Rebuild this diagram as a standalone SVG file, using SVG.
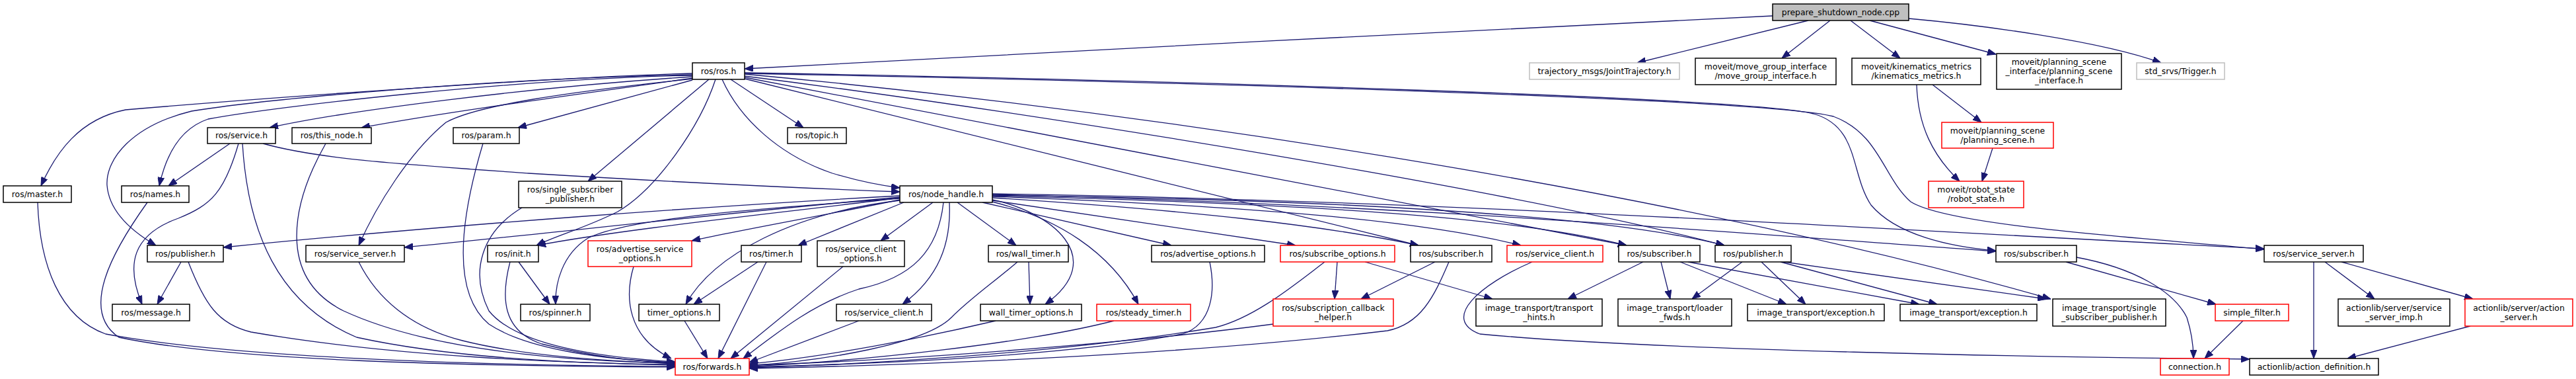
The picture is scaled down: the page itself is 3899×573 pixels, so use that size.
<svg xmlns="http://www.w3.org/2000/svg" width="3899" height="573" viewBox="0 0 3899 573">
<defs>
<style>
.n rect{fill:#fff;stroke:#000;stroke-width:1.5}
.n.r rect{stroke:#ff0000}
.n.g rect{stroke:#bfbfbf}
.n.root rect{fill:#bfbfbf}
.n text{font-family:"DejaVu Sans","Liberation Sans",sans-serif;font-size:12.4px;fill:#000;text-anchor:middle}
#edges path{fill:none;stroke:#191970;stroke-width:1.3;marker-end:url(#ah)}
</style>
<marker id="ah" viewBox="0 0 13 10" refX="13" refY="5" markerWidth="13" markerHeight="10" orient="auto" markerUnits="userSpaceOnUse"><path d="M0,0L13,5L0,10z" fill="#191970" stroke="#191970" stroke-width="1"/></marker>
</defs>
<rect width="3899" height="573" fill="#fff"/>
<g id="edges">
<path d="M2683,24 C2300,40 1500,85 1127,104"/>
<path d="M2737,31 L2478,95"/>
<path d="M2770,31 L2697,88"/>
<path d="M2801,31 L2876,88"/>
<path d="M2830,31 L3021,82"/>
<path d="M2889,28 C3000,38 3180,62 3271,95"/>
<path d="M2925,128 L2999,185"/>
<path d="M2901,128 C2903,190 2925,235 2966,274"/>
<path d="M3016,224 L3000,274"/>
<path d="M1048,111 C850,116 400,148 190,166 C120,180 85,230 62,281"/>
<path d="M1048,113 C750,118 400,150 290,168 C200,190 160,240 162,280 C165,320 200,350 236,371"/>
<path d="M1048,114 C800,118 420,160 315,180 C270,195 250,240 241,281"/>
<path d="M1048,116 C800,132 520,168 408,193"/>
<path d="M1049,118 C820,150 660,172 547,193"/>
<path d="M1049,119 C850,140 720,160 675,185 C620,230 570,310 543,371"/>
<path d="M1048,121 L784,193"/>
<path d="M1073,120 L890,274"/>
<path d="M1083,120 C1060,190 995,285 935,320 C885,345 845,355 812,371"/>
<path d="M1106,120 L1216,193"/>
<path d="M1093,120 C1120,180 1180,235 1260,262 C1300,274 1330,280 1362,284"/>
<path d="M1127,119 L2147,371"/>
<path d="M1127,117 L2462,371"/>
<path d="M1127,115 C1600,175 2300,290 2610,371"/>
<path d="M1127,112 C1700,165 2500,280 3104,452"/>
<path d="M1127,110 C1800,122 2650,148 2745,172 C2815,192 2800,262 2832,310 C2870,355 2950,373 3021,379"/>
<path d="M1127,111 C1800,124 2680,150 2775,176 C2845,202 2850,268 2892,305 C2950,342 3250,360 3427,377"/>
<path d="M348,217 L255,281"/>
<path d="M361,217 C340,290 320,310 270,330 C200,355 190,400 215,460"/>
<path d="M367,217 C375,350 420,460 540,510 C700,545 900,550 1022,551"/>
<path d="M398,217 C480,240 600,248 800,262 C1000,274 1200,284 1362,290"/>
<path d="M493,217 C440,310 420,420 520,470 C650,530 850,546 1022,549"/>
<path d="M731,217 C700,320 680,440 740,490 C800,530 920,544 1022,548"/>
<path d="M57,306 C60,400 90,480 160,505 C350,540 700,552 1022,554"/>
<path d="M223,306 C170,380 120,470 180,510 C350,546 700,553 1022,555"/>
<path d="M274,396 L238,460"/>
<path d="M285,396 C310,460 330,490 380,502 C600,540 850,548 1022,552"/>
<path d="M543,396 C570,450 620,495 700,515 C800,540 930,546 1022,550"/>
<path d="M790,314 C730,350 710,410 740,470 C780,520 900,540 1022,547"/>
<path d="M785,396 L832,460"/>
<path d="M772,396 C758,450 760,500 820,520 C900,540 960,546 1022,549"/>
<path d="M959,403 C945,450 950,510 1016,542"/>
<path d="M1147,396 L1050,460"/>
<path d="M1160,396 L1087,542"/>
<path d="M1036,485 L1071,542"/>
<path d="M1276,403 L1106,542"/>
<path d="M1362,296 C1100,310 700,338 338,374"/>
<path d="M1362,298 C1100,322 800,356 612,374"/>
<path d="M1362,299 C1200,320 950,345 813,371"/>
<path d="M1362,300 C1150,315 950,330 890,360 C850,385 840,430 841,460"/>
<path d="M1362,302 C1250,325 1120,348 1047,364"/>
<path d="M1368,306 L1208,371"/>
<path d="M1362,303 C1200,322 1080,385 1038,460"/>
<path d="M1412,306 L1333,364"/>
<path d="M1428,306 C1420,380 1380,420 1300,437 C1230,460 1180,500 1125,542"/>
<path d="M1437,306 C1440,370 1420,420 1366,460"/>
<path d="M1449,306 L1538,371"/>
<path d="M1502,302 C1590,320 1680,390 1582,460"/>
<path d="M1502,305 C1600,330 1680,380 1723,460"/>
<path d="M1487,306 L1773,371"/>
<path d="M1502,303 L1961,371"/>
<path d="M1502,299 C1800,318 2000,340 2147,371"/>
<path d="M1502,297 C1900,312 2150,333 2302,371"/>
<path d="M1502,296 C2000,308 2300,330 2462,371"/>
<path d="M1502,295 C2100,303 2450,330 2610,371"/>
<path d="M1502,294 C2100,308 2600,350 3021,380"/>
<path d="M1502,293 C2200,303 2900,350 3427,376"/>
<path d="M1300,485 L1134,548"/>
<path d="M1557,396 L1559,460"/>
<path d="M1540,396 C1500,430 1470,450 1440,480 C1400,520 1250,545 1134,553"/>
<path d="M1507,485 C1400,510 1250,540 1134,550"/>
<path d="M1686,485 C1550,520 1300,546 1134,554"/>
<path d="M1831,396 C1840,440 1835,490 1790,505 C1600,540 1300,551 1134,555"/>
<path d="M2024,396 L2020,452"/>
<path d="M2005,396 C1960,430 1900,480 1840,495 C1600,535 1300,551 1134,556"/>
<path d="M2066,396 L2259,452"/>
<path d="M2172,396 L2060,452"/>
<path d="M2193,396 C2170,450 2150,490 2100,500 C1800,536 1400,552 1134,557"/>
<path d="M1927,490 C1700,520 1350,546 1134,552"/>
<path d="M2319,396 C2240,430 2180,482 2240,505 C2500,530 3100,540 3405,543"/>
<path d="M2487,396 L2373,452"/>
<path d="M2514,396 L2528,452"/>
<path d="M2543,396 L2704,460"/>
<path d="M2555,396 L2905,460"/>
<path d="M2637,396 L2561,452"/>
<path d="M2666,396 L2733,460"/>
<path d="M2695,396 L2932,460"/>
<path d="M2700,396 L3097,452"/>
<path d="M3127,396 L3354,460"/>
<path d="M3143,389 C3230,405 3290,440 3310,480 C3318,505 3320,525 3320,542"/>
<path d="M3395,485 L3337,542"/>
<path d="M3502,396 L3502,542"/>
<path d="M3519,396 L3594,452"/>
<path d="M3544,396 L3743,452"/>
<path d="M3739,493 L3553,542"/>
</g>
<g id="n0" class="n root"><rect x="2683" y="6" width="206" height="25"/><text x="2786" y="22.5">prepare_shutdown_node.cpp</text></g>
<g id="n1" class="n"><rect x="1048" y="95" width="79" height="25"/><text x="1087.5" y="111.5">ros/ros.h</text></g>
<g id="n2" class="n g"><rect x="2315" y="95" width="227" height="25"/><text x="2428.5" y="111.5">trajectory_msgs/JointTrajectory.h</text></g>
<g id="n3" class="n"><rect x="2566" y="88" width="213" height="40"/><text x="2672.5" y="105">moveit/move_group_interface</text><text x="2672.5" y="119">/move_group_interface.h</text></g>
<g id="n4" class="n"><rect x="2803" y="88" width="195" height="40"/><text x="2900.5" y="105">moveit/kinematics_metrics</text><text x="2900.5" y="119">/kinematics_metrics.h</text></g>
<g id="n5" class="n"><rect x="3022" y="81" width="189" height="54"/><text x="3116.5" y="97.7">moveit/planning_scene</text><text x="3116.5" y="112">_interface/planning_scene</text><text x="3116.5" y="126.3">_interface.h</text></g>
<g id="n6" class="n g"><rect x="3234" y="95" width="133" height="25"/><text x="3300.5" y="111.5">std_srvs/Trigger.h</text></g>
<g id="n7" class="n"><rect x="314" y="193" width="103" height="24"/><text x="365.5" y="209">ros/service.h</text></g>
<g id="n8" class="n"><rect x="442" y="193" width="120" height="24"/><text x="502" y="209">ros/this_node.h</text></g>
<g id="n9" class="n"><rect x="686" y="193" width="100" height="24"/><text x="736" y="209">ros/param.h</text></g>
<g id="n10" class="n"><rect x="1192" y="193" width="89" height="24"/><text x="1236.5" y="209">ros/topic.h</text></g>
<g id="n11" class="n r"><rect x="2939" y="185" width="169" height="39"/><text x="3023.5" y="201.5">moveit/planning_scene</text><text x="3023.5" y="215.5">/planning_scene.h</text></g>
<g id="n12" class="n"><rect x="5" y="281" width="103" height="25"/><text x="56.5" y="297.5">ros/master.h</text></g>
<g id="n13" class="n"><rect x="184" y="281" width="102" height="25"/><text x="235" y="297.5">ros/names.h</text></g>
<g id="n14" class="n"><rect x="785" y="274" width="156" height="40"/><text x="863" y="291">ros/single_subscriber</text><text x="863" y="305">_publisher.h</text></g>
<g id="n15" class="n"><rect x="1362" y="281" width="140" height="25"/><text x="1432" y="297.5">ros/node_handle.h</text></g>
<g id="n16" class="n r"><rect x="2919" y="274" width="144" height="40"/><text x="2991" y="291">moveit/robot_state</text><text x="2991" y="305">/robot_state.h</text></g>
<g id="n17" class="n"><rect x="223" y="371" width="115" height="25"/><text x="280.5" y="387.5">ros/publisher.h</text></g>
<g id="n18" class="n"><rect x="463" y="371" width="149" height="25"/><text x="537.5" y="387.5">ros/service_server.h</text></g>
<g id="n19" class="n"><rect x="738" y="371" width="77" height="25"/><text x="776.5" y="387.5">ros/init.h</text></g>
<g id="n20" class="n r"><rect x="890" y="364" width="157" height="39"/><text x="968.5" y="380.5">ros/advertise_service</text><text x="968.5" y="394.5">_options.h</text></g>
<g id="n21" class="n"><rect x="1122" y="371" width="91" height="25"/><text x="1167.5" y="387.5">ros/timer.h</text></g>
<g id="n22" class="n"><rect x="1237" y="364" width="132" height="39"/><text x="1303" y="380.5">ros/service_client</text><text x="1303" y="394.5">_options.h</text></g>
<g id="n23" class="n"><rect x="1496" y="371" width="121" height="25"/><text x="1556.5" y="387.5">ros/wall_timer.h</text></g>
<g id="n24" class="n"><rect x="1743" y="371" width="171" height="25"/><text x="1828.5" y="387.5">ros/advertise_options.h</text></g>
<g id="n25" class="n r"><rect x="1938" y="371" width="173" height="25"/><text x="2024.5" y="387.5">ros/subscribe_options.h</text></g>
<g id="n26" class="n"><rect x="2135" y="371" width="123" height="25"/><text x="2196.5" y="387.5">ros/subscriber.h</text></g>
<g id="n27" class="n r"><rect x="2281" y="371" width="145" height="25"/><text x="2353.5" y="387.5">ros/service_client.h</text></g>
<g id="n28" class="n"><rect x="2450" y="371" width="123" height="25"/><text x="2511.5" y="387.5">ros/subscriber.h</text></g>
<g id="n29" class="n"><rect x="2596" y="371" width="115" height="25"/><text x="2653.5" y="387.5">ros/publisher.h</text></g>
<g id="n30" class="n"><rect x="3021" y="371" width="122" height="25"/><text x="3082" y="387.5">ros/subscriber.h</text></g>
<g id="n31" class="n"><rect x="3427" y="371" width="150" height="25"/><text x="3502" y="387.5">ros/service_server.h</text></g>
<g id="n32" class="n"><rect x="170" y="460" width="117" height="25"/><text x="228.5" y="476.5">ros/message.h</text></g>
<g id="n33" class="n"><rect x="788" y="460" width="105" height="25"/><text x="840.5" y="476.5">ros/spinner.h</text></g>
<g id="n34" class="n"><rect x="967" y="460" width="122" height="25"/><text x="1028" y="476.5">timer_options.h</text></g>
<g id="n35" class="n"><rect x="1266" y="460" width="144" height="25"/><text x="1338" y="476.5">ros/service_client.h</text></g>
<g id="n36" class="n"><rect x="1484" y="460" width="153" height="25"/><text x="1560.5" y="476.5">wall_timer_options.h</text></g>
<g id="n37" class="n r"><rect x="1660" y="460" width="142" height="25"/><text x="1731" y="476.5">ros/steady_timer.h</text></g>
<g id="n38" class="n r"><rect x="1927" y="452" width="182" height="41"/><text x="2018" y="469.5">ros/subscription_callback</text><text x="2018" y="483.5">_helper.h</text></g>
<g id="n39" class="n"><rect x="2234" y="452" width="191" height="41"/><text x="2329.5" y="469.5">image_transport/transport</text><text x="2329.5" y="483.5">_hints.h</text></g>
<g id="n40" class="n"><rect x="2449" y="452" width="172" height="41"/><text x="2535" y="469.5">image_transport/loader</text><text x="2535" y="483.5">_fwds.h</text></g>
<g id="n41" class="n"><rect x="2645" y="460" width="207" height="25"/><text x="2748.5" y="476.5">image_transport/exception.h</text></g>
<g id="n42" class="n"><rect x="2876" y="460" width="207" height="25"/><text x="2979.5" y="476.5">image_transport/exception.h</text></g>
<g id="n43" class="n"><rect x="3107" y="452" width="171" height="41"/><text x="3192.5" y="469.5">image_transport/single</text><text x="3192.5" y="483.5">_subscriber_publisher.h</text></g>
<g id="n44" class="n r"><rect x="3353" y="460" width="111" height="25"/><text x="3408.5" y="476.5">simple_filter.h</text></g>
<g id="n45" class="n"><rect x="3539" y="452" width="169" height="41"/><text x="3623.5" y="469.5">actionlib/server/service</text><text x="3623.5" y="483.5">_server_imp.h</text></g>
<g id="n46" class="n r"><rect x="3731" y="452" width="163" height="41"/><text x="3812.5" y="469.5">actionlib/server/action</text><text x="3812.5" y="483.5">_server.h</text></g>
<g id="n47" class="n r"><rect x="1022" y="542" width="112" height="25"/><text x="1078" y="558.5">ros/forwards.h</text></g>
<g id="n48" class="n r"><rect x="3270" y="542" width="104" height="25"/><text x="3322" y="558.5">connection.h</text></g>
<g id="n49" class="n"><rect x="3405" y="542" width="195" height="25"/><text x="3502.5" y="558.5">actionlib/action_definition.h</text></g>
</svg>
